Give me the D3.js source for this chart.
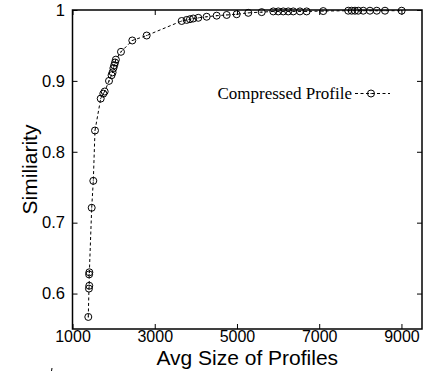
<!DOCTYPE html>
<html>
<head>
<meta charset="UTF-8">
<title>Similiarity vs Avg Size of Profiles</title>
<style type="text/css">
  body { margin: 0; background: #fff; }
  .axis text { font-family: "Liberation Sans", Arial, sans-serif; font-size: 16.5px; fill: #000; }
  .axis line { stroke: #000; stroke-width: 1; }
  .axis path { display: none; }
  .frame { fill: none; stroke: #000; stroke-width: 1.5; }
  .curve { fill: none; stroke: #000; stroke-width: 1; stroke-dasharray: 3,2.5; }
  .pt { fill: none; stroke: #000; stroke-width: 1; }
  .dot { fill: #000; }
  .title { font-family: "Liberation Sans", Arial, sans-serif; font-size: 21px; fill: #000; }
  .legend { font-family: "Liberation Serif", "Times New Roman", serif; font-size: 17px; fill: #000; }
</style>
</head>
<body>
<script src="https://d3js.org/d3.v7.min.js"></script>
<script type="text/javascript">
// values
var seriesName = "Compressed Profile";
var avgSize = [1384, 1400, 1408, 1404, 1410, 1467, 1506, 1547, 1686, 1749, 1783, 1888,
               1950, 1975, 1995, 2015, 2035, 2055, 2179, 2454, 2804,
               3655, 3777, 3857, 3937, 4059, 4263, 4506, 4750, 4993, 5275, 5601,
               5883, 6004, 6126, 6247, 6369, 6532, 6695, 7098,
               7706, 7790, 7870, 7950, 8071, 8234, 8400, 8600, 9005];
var similarity = [0.567, 0.607, 0.611, 0.627, 0.630, 0.721, 0.759, 0.830, 0.875, 0.882, 0.885, 0.900,
                  0.908, 0.912, 0.918, 0.922, 0.926, 0.930, 0.941, 0.957, 0.964,
                  0.9845, 0.986, 0.987, 0.988, 0.989, 0.9905, 0.992, 0.993, 0.994, 0.996, 0.997,
                  0.998, 0.998, 0.998, 0.998, 0.998, 0.998, 0.998, 0.9985,
                  0.999, 0.999, 0.999, 0.999, 0.999, 0.999, 0.999, 0.999, 0.999];
var xTicks = [1000, 3000, 5000, 7000, 9000];
var yTicks = [0.6, 0.7, 0.8, 0.9, 1];
var xTitle = "Avg Size of Profiles";
var yTitle = "Similiarity";

var data = avgSize.map(function(v, i) { return {x: v, y: similarity[i]}; });

var width = 426, height = 371;
var margin = {top: 10, right: 4, bottom: 42, left: 72.5};

var x = d3.scaleLinear().domain([1000, 9500]).range([margin.left, width - margin.right]);
var y = d3.scaleLinear().domain([0.55, 1]).range([height - margin.bottom, margin.top]);

var svg = d3.select("body").append("svg")
    .attr("width", width)
    .attr("height", height);

// axes, ticks pointing inward on all four sides
svg.append("g")
    .attr("class", "axis")
    .attr("transform", "translate(0," + y.range()[0] + ")")
    .call(d3.axisBottom(x).tickValues(xTicks).tickSizeInner(-5).tickSizeOuter(0).tickPadding(2)
          .tickFormat(d3.format("d")))
    .selectAll("text").style("font-size", "16px");

svg.append("g")
    .attr("class", "axis")
    .attr("transform", "translate(0," + y.range()[1] + ")")
    .call(d3.axisTop(x).tickValues(xTicks).tickSizeInner(-5).tickSizeOuter(0).tickFormat(""));

svg.append("g")
    .attr("class", "axis")
    .attr("transform", "translate(" + x.range()[0] + ",0)")
    .call(d3.axisLeft(y).tickValues(yTicks).tickSizeInner(-5).tickSizeOuter(0).tickPadding(7.5)
          .tickFormat(function(d) { return d === 1 ? "1" : d3.format(".1f")(d); }));

svg.append("g")
    .attr("class", "axis")
    .attr("transform", "translate(" + x.range()[1] + ",0)")
    .call(d3.axisRight(y).tickValues(yTicks).tickSizeInner(-5).tickSizeOuter(0).tickFormat(""));

svg.append("rect")
    .attr("class", "frame")
    .attr("x", x.range()[0])
    .attr("y", y.range()[1])
    .attr("width", x.range()[1] - x.range()[0])
    .attr("height", y.range()[0] - y.range()[1]);

// axis titles
svg.append("text")
    .attr("class", "title")
    .attr("x", (x.range()[0] + x.range()[1]) / 2)
    .attr("y", 364.5)
    .attr("text-anchor", "middle")
    .text(xTitle);

svg.append("text")
    .attr("class", "title")
    .attr("transform", "translate(37," + ((y.range()[0] + y.range()[1]) / 2) + ") rotate(-90)")
    .attr("text-anchor", "middle")
    .text(yTitle);

// the stray mark under the axis
svg.append("line")
    .attr("x1", 52).attr("y1", 368).attr("x2", 51.5).attr("y2", 371)
    .attr("stroke", "#000").attr("stroke-width", 1);

// series
var line = d3.line()
    .x(function(d) { return x(d.x); })
    .y(function(d) { return y(d.y); });

svg.append("path")
    .attr("class", "curve")
    .attr("d", line(data));

svg.selectAll(".pt")
    .data(data)
  .enter().append("circle")
    .attr("class", "pt")
    .attr("cx", function(d) { return x(d.x); })
    .attr("cy", function(d) { return y(d.y); })
    .attr("r", 3.5);

svg.selectAll(".dot")
    .data(data)
  .enter().append("circle")
    .attr("class", "dot")
    .attr("cx", function(d) { return x(d.x); })
    .attr("cy", function(d) { return y(d.y); })
    .attr("r", 0.6);

// legend
var lg = svg.append("g");
lg.append("text")
    .attr("class", "legend")
    .attr("x", 352)
    .attr("y", 99)
    .attr("text-anchor", "end")
    .text(seriesName);
lg.append("line")
    .attr("class", "curve")
    .attr("x1", 355).attr("x2", 390)
    .attr("y1", 93.5).attr("y2", 93.5);
lg.append("circle")
    .attr("class", "pt")
    .attr("cx", 371).attr("cy", 93.5).attr("r", 3.5);
lg.append("circle")
    .attr("class", "dot")
    .attr("cx", 371).attr("cy", 93.5).attr("r", 0.6);
</script>
</body>
</html>
